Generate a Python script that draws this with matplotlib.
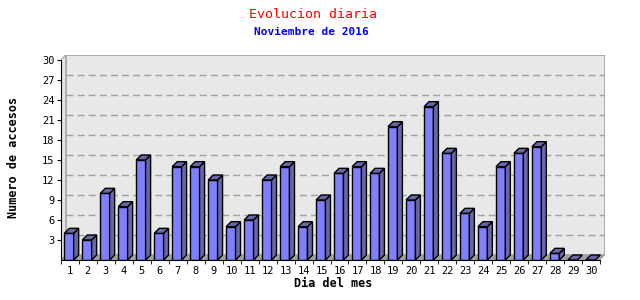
import matplotlib
matplotlib.use("Agg")
import matplotlib.pyplot as plt
from matplotlib.patches import Polygon
import numpy as np

plt.rcParams['font.family'] = ['DejaVu Sans Mono']

dias = list(range(1, 31))
accesos = [4, 3, 10, 8, 15, 4, 14, 14, 12, 5, 6, 12, 14, 5, 9,
           13, 14, 13, 20, 9, 23, 16, 7, 5, 14, 16, 17, 1, 0, 0]
yticks = [3, 6, 9, 12, 15, 18, 21, 24, 27, 30]

# 3d look: depth in data units (about 5 px each way)
dx = 5 / 18.0
dy = 5 / (200 / 30.0)
ymax = 30
front = '#8080ff'
dark = '#6868a8'

fig = plt.figure(figsize=(6.4, 3.0), dpi=100)
x0 = 60.7 / 640
x1 = (600.3 + 5) / 640
ax = fig.add_axes([x0, 40 / 300, x1 - x0, 205 / 300])
ax.set_xlim(0.5, 30.5 + dx)
ax.set_ylim(0, ymax + dy)
ax.set_facecolor('none')

# back wall, left wall, floor
ax.add_patch(Polygon([(0.5 + dx, dy), (30.5 + dx, dy), (30.5 + dx, ymax + dy), (0.5 + dx, ymax + dy)],
                     closed=True, fc='#e8e8e8', ec='#a0a0a0', lw=1.2, zorder=0))
ax.add_patch(Polygon([(0.5, 0), (0.5 + dx, dy), (0.5 + dx, ymax + dy), (0.5, ymax)],
                     closed=True, fc='#e4e4e4', ec='#b0b0b0', lw=1.0, zorder=0.5))
ax.add_patch(Polygon([(0.5, 0), (30.5, 0), (30.5 + dx, dy), (0.5 + dx, dy)],
                     closed=True, fc='#a0a0a0', ec='none', zorder=0.6))

for v in yticks[:-1]:
    ax.plot([0.5 + dx, 30.5 + dx], [v + dy, v + dy], color='#a0a0a0', lw=1.0,
            dashes=(5, 3), zorder=1)

# bars
w = 0.52
off = 0.2
for d, v in zip(dias, accesos):
    l = d - 0.5 + off
    r = l + w
    if v > 0:
        ax.bar(l, v, width=w, align='edge', color=front, edgecolor='black', lw=1.0, zorder=3)
        ax.add_patch(Polygon([(r, 0), (r + dx, dy), (r + dx, v + dy), (r, v)],
                             closed=True, fc=dark, ec='black', lw=1.0, zorder=3))
    ax.add_patch(Polygon([(l, v), (r, v), (r + dx, v + dy), (l + dx, v + dy)],
                         closed=True, fc=dark, ec='black', lw=1.0, zorder=3))

for s in ['top', 'right']:
    ax.spines[s].set_visible(False)
ax.spines['left'].set_bounds(0, ymax)
ax.spines['bottom'].set_bounds(0.5, 30.5)
ax.spines['left'].set_zorder(4)
ax.spines['bottom'].set_zorder(4)

ax.set_yticks(yticks)
ax.set_yticklabels([str(t) for t in yticks], fontsize=7.5)
ax.set_xticks(dias)
ax.set_xticklabels([str(d) for d in dias], fontsize=7.5)
ax.set_xticks(np.arange(0.5, 31, 1), minor=True)
ax.tick_params(axis='x', which='major', length=0, pad=4)
ax.tick_params(axis='x', which='minor', length=3, direction='out')
ax.tick_params(axis='y', length=3, direction='out', pad=1.5)

ax.set_xlabel('Dia del mes', fontsize=8.5, fontweight='bold', labelpad=1)
ax.set_ylabel('Numero de accesos', fontsize=8.5, fontweight='bold', labelpad=16)

fig.text(313 / 640, 1 - 14 / 300, 'Evolucion diaria', color='red', fontsize=9.5,
         ha='center', va='center')
fig.text(311 / 640, 1 - 32 / 300, 'Noviembre de 2016', color='#0000ff', fontsize=8,
         fontweight='bold', ha='center', va='center')

fig.savefig('out.png', dpi=100)
